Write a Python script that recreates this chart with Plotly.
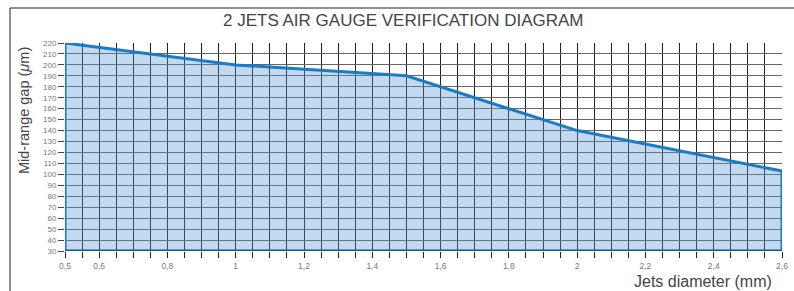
import plotly.graph_objects as go

# Data
diameters = [0.5, 1.0, 1.5, 2.0, 2.6]
gaps = [220, 200, 190, 140, 103]
y_min, y_max = 30, 220
x_tick_vals = [0.5, 0.6, 0.8, 1.0, 1.2, 1.4, 1.6, 1.8, 2.0, 2.2, 2.4, 2.6]
x_tick_text = ["0,5", "0,6", "0,8", "1", "1,2", "1,4", "1,6", "1,8", "2", "2,2", "2,4", "2,6"]
y_tick_vals = list(range(30, 221, 10))

W, H = 794, 291
L, R, T, B = 65, 12, 43, 40
pw, ph = W - L - R, H - T - B

def px2x(p):
    return (p - L) / pw

def px2y(p):
    return 1 - (p - T) / ph

fig = go.Figure()

poly_x = [diameters[0]] + diameters + [diameters[-1]]
poly_y = [y_min] + gaps + [y_min]
fig.add_trace(go.Scatter(
    x=poly_x, y=poly_y, mode="lines", fill="toself",
    fillcolor="rgba(89,149,212,0.36)",
    line=dict(color="#1a7cc4", width=3), hoverinfo="skip", showlegend=False))
# darker baseline
fig.add_trace(go.Scatter(
    x=[diameters[0], diameters[-1]], y=[y_min, y_min], mode="lines",
    line=dict(color="#0d5a98", width=3), hoverinfo="skip", showlegend=False))

font = "Liberation Sans, Arial, sans-serif"

fig.update_xaxes(
    range=[0.5, 2.6], tickvals=x_tick_vals, ticktext=x_tick_text,
    showgrid=True, gridcolor="#222", gridwidth=1,
    ticks="outside", ticklen=6, tickcolor="#222", tickwidth=1,
    minor=dict(dtick=0.05, tick0=0.5, showgrid=True, gridcolor="#222", gridwidth=1,
               ticks="outside", ticklen=6, tickcolor="#222", tickwidth=1),
    tickfont=dict(family=font, size=8.5, color="#777"), ticklabelstandoff=1,
    zeroline=False, showline=False, fixedrange=True, automargin=False)
fig.update_yaxes(
    range=[y_min, y_max], tickvals=y_tick_vals,
    showgrid=True, gridcolor="#666", gridwidth=1,
    ticks="outside", ticklen=6, tickcolor="#444", tickwidth=1,
    tickfont=dict(family=font, size=8, color="#777"),
    zeroline=False, showline=False, fixedrange=True, automargin=False)

# frame lines
fig.add_shape(type="line", xref="paper", yref="paper",
              x0=px2x(10), x1=px2x(794), y0=px2y(8), y1=px2y(8),
              line=dict(color="#222", width=1))
fig.add_shape(type="line", xref="paper", yref="paper",
              x0=px2x(10), x1=px2x(10), y0=px2y(8), y1=px2y(291),
              line=dict(color="#222", width=1))

fig.add_annotation(text="2 JETS AIR GAUGE VERIFICATION DIAGRAM", xref="paper", yref="paper",
                   x=px2x(403), y=px2y(21), showarrow=False, xanchor="center", yanchor="middle",
                   font=dict(family=font, size=17, color="#444"))
fig.add_annotation(text="Mid-range gap (<i>μ</i>m)", xref="paper", yref="paper",
                   x=px2x(24), y=px2y(111), showarrow=False, textangle=-90,
                   xanchor="center", yanchor="middle",
                   font=dict(family=font, size=14.5, color="#444"))
fig.add_annotation(text="Jets diameter (mm)", xref="paper", yref="paper",
                   x=px2x(774), y=px2y(281), showarrow=False, xanchor="right", yanchor="middle",
                   font=dict(family=font, size=16, color="#444"))

fig.update_layout(width=W, height=H, margin=dict(l=L, r=R, t=T, b=B, pad=0, autoexpand=False),
                  paper_bgcolor="white", plot_bgcolor="white", showlegend=False)

fig.write_html("out.html", config={"displayModeBar": False},
               post_script="document.body.style.margin='0';document.body.style.overflow='hidden';")
